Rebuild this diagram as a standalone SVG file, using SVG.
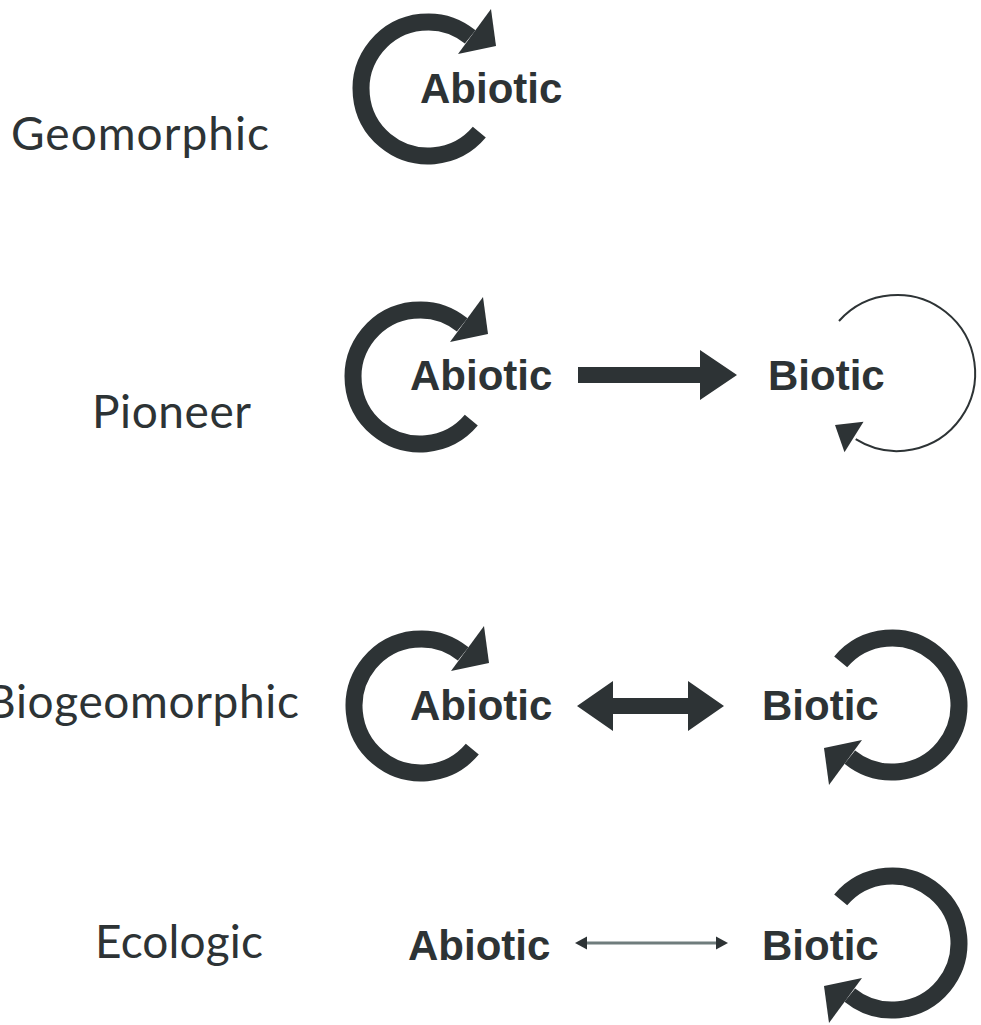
<svg xmlns="http://www.w3.org/2000/svg" width="981" height="1025" viewBox="0 0 981 1025">
  <style>
    .lbl { font-family: Lato, "Open Sans", sans-serif; font-size: 46px; fill: #2d3335; }
    .nd { font-family: "Liberation Sans", Arial, sans-serif; font-weight: bold; font-size: 42px; fill: #2d3335; }
    .thick { fill: #2d3335; }
    .arc { fill: none; stroke: #2d3335; stroke-width: 17; }
    .thin { fill: none; stroke: #2d3335; stroke-width: 2; }
    .thinline { fill: none; stroke: #6f7c7c; stroke-width: 3; }
  </style>
  <defs>
    <g id="cycle">
      <path class="arc" d="M51.3,43.1 A67,67 0 1 1 42.2,-52.1"/>
      <polygon class="thick" points="63,-80 68,-43 30,-35"/>
    </g>
  </defs>
  <rect width="981" height="1025" fill="#ffffff"/>

  <g id="label-geomorphic"><text class="lbl" x="11" y="150" textLength="258">Geomorphic</text></g>
  <g id="label-pioneer"><text class="lbl" x="92" y="428" textLength="159">Pioneer</text></g>
  <g id="label-biogeomorphic"><text class="lbl" x="-14" y="718" textLength="313">Biogeomorphic</text></g>
  <g id="label-ecologic"><text class="lbl" x="95" y="958" textLength="168">Ecologic</text></g>

  <g id="geo-abiotic"><text class="nd" x="420" y="103">Abiotic</text></g>
  <g id="pio-abiotic"><text class="nd" x="410" y="390">Abiotic</text></g>
  <g id="pio-biotic"><text class="nd" x="768" y="390">Biotic</text></g>
  <g id="bio-abiotic"><text class="nd" x="410" y="720">Abiotic</text></g>
  <g id="bio-biotic"><text class="nd" x="762" y="720">Biotic</text></g>
  <g id="eco-abiotic"><text class="nd" x="408" y="960">Abiotic</text></g>
  <g id="eco-biotic"><text class="nd" x="762" y="960">Biotic</text></g>

  <g id="connectors">
    <use href="#cycle" transform="translate(428,89)"/>
    <use href="#cycle" transform="translate(420,377)"/>
    <use href="#cycle" transform="translate(421,706)"/>
    <use href="#cycle" transform="translate(892,705) rotate(180)"/>
    <use href="#cycle" transform="translate(892,943) rotate(180)"/>
    <path class="thin" d="M839,321 A78,78 0 1 1 855.7,439.1"/>
    <polygon class="thick" points="835,425 844.5,452.3 863.5,421.7"/>
    <polygon class="thick" points="578,367 700,367 700,350 737,375 700,400 700,383 578,383"/>
    <polygon class="thick" points="577,706 613,681 613,698 688,698 688,681 724,706 688,731 688,714 613,714 613,731"/>
    <line class="thinline" x1="584" y1="943" x2="719" y2="943"/>
    <polygon class="thick" points="575,943 587,936.5 587,949.5"/>
    <polygon class="thick" points="728,943 716,936.5 716,949.5"/>
  </g>
</svg>
